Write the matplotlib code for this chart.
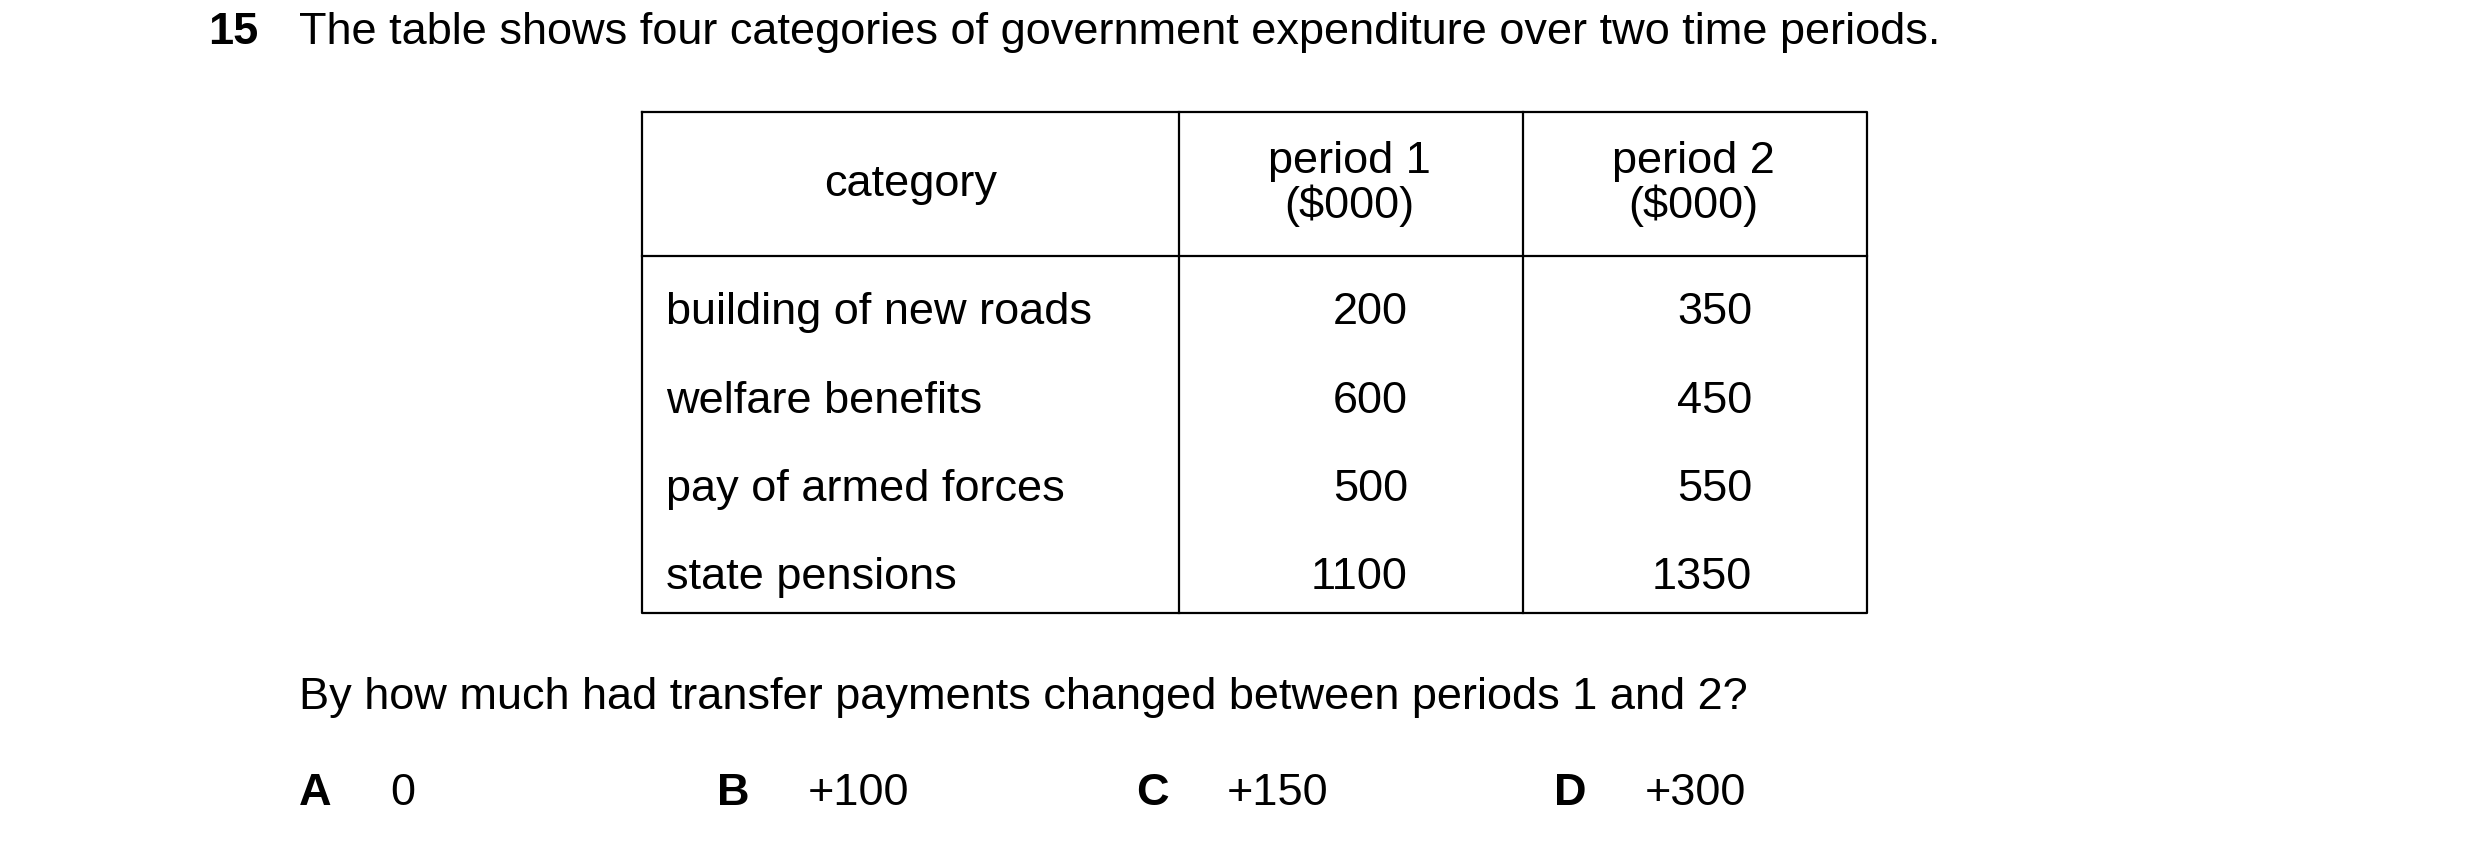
import matplotlib
matplotlib.use("Agg")
import matplotlib.pyplot as plt

question_no = "15"
intro = "The table shows four categories of government expenditure over two time periods."
headers = ["category", "period 1\n($000)", "period 2\n($000)"]
categories = ["building of new roads", "welfare benefits", "pay of armed forces", "state pensions"]
period1 = [200, 600, 500, 1100]
period2 = [350, 450, 550, 1350]
question = "By how much had transfer payments changed between periods 1 and 2?"
option_letters = ["A", "B", "C", "D"]
option_values = ["0", "+100", "+150", "+300"]

W, H = 1550, 525.6
fig = plt.figure(figsize=(24.8, 8.41), dpi=100)
ax = fig.add_axes([0, 0, 1, 1])
ax.set_xlim(0, W); ax.set_ylim(H, 0); ax.axis("off")
plt.rcParams['font.family'] = ['Liberation Sans', 'DejaVu Sans']
fs = 32.5

ax.text(130, 20, question_no, fontsize=fs, fontweight="bold", va="center")
ax.text(187, 20, intro, fontsize=fs, va="center")

L, R, T, B = 401, 1167, 70, 383
c1, c2, hl = 737, 952, 160
lw = 1.6
ax.plot([L, R, R, L, L], [T, T, B, B, T], color="black", lw=lw)
ax.plot([L, R], [hl, hl], color="black", lw=lw)
ax.plot([c1, c1], [T, B], color="black", lw=lw)
ax.plot([c2, c2], [T, B], color="black", lw=lw)

ax.text((L + c1) / 2, 115, headers[0], fontsize=fs, ha="center", va="center")
ax.text((c1 + c2) / 2 - 1, 115, headers[1], fontsize=fs, ha="center", va="center", linespacing=1.05)
ax.text((c2 + R) / 2 - 1, 115, headers[2], fontsize=fs, ha="center", va="center", linespacing=1.05)

rows_y = [195, 251, 306, 361]
for y, cat, a, b in zip(rows_y, categories, period1, period2):
    ax.text(416, y, cat, fontsize=fs, va="center")
    ax.text(880, y, str(a), fontsize=fs, va="center", ha="right")
    ax.text(1095, y, str(b), fontsize=fs, va="center", ha="right")

ax.text(187, 436, question, fontsize=fs, va="center")
lx = [187, 448, 710, 971]
for x, l, v in zip(lx, option_letters, option_values):
    ax.text(x, 496, l, fontsize=fs, fontweight="bold", va="center")
    ax.text(x + 57, 496, v, fontsize=fs, va="center")

fig.savefig("out.png", dpi=100, facecolor="white")
